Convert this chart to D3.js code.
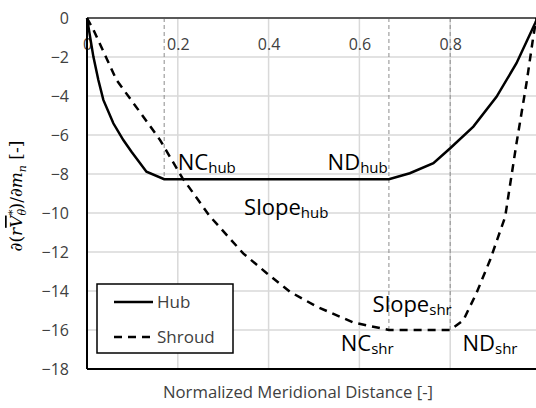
<!DOCTYPE html>
<meta charset="utf-8">
<script src="https://d3js.org/d3.v7.min.js"></script>
<style>
  body { margin: 0; background: #fff; }
  text { font-family: "Open Sans", sans-serif; }
</style>
<div id="chart"></div>
<script>
// data
const hubX = [0, 0.014, 0.025, 0.036, 0.058, 0.080, 0.098, 0.131, 0.17, 0.665, 0.711, 0.763, 0.80, 0.851, 0.902, 0.946, 0.987, 0.992];
const hubY = [0, -1.98, -3.18, -4.2, -5.4, -6.26, -6.86, -7.88, -8.27, -8.27, -7.96, -7.45, -6.68, -5.57, -4.04, -2.32, -0.27, 0];
const shroudX = [0, 0.014, 0.065, 0.124, 0.161, 0.21, 0.27, 0.344, 0.396, 0.447, 0.506, 0.587, 0.665, 0.80, 0.829, 0.858, 0.888, 0.921, 0.946, 0.968, 0.983, 0.99];
const shroudY = [0, -0.6, -3.18, -5.06, -6.26, -8.2, -10.15, -12.07, -13.09, -14.04, -14.8, -15.62, -16, -16, -15.5, -14.1, -12.4, -10.2, -6.43, -3.35, -0.96, 0];
const markerX = [0.17, 0.665, 0.8];
const markerBottom = [-8.27, -16, -16];
const xTicks = [0, 0.2, 0.4, 0.6, 0.8];
const yTicks = [0, -2, -4, -6, -8, -10, -12, -14, -16, -18];
const notes = [
  { x: 0.2, y: -7.8, main: "NC", sub: "hub" },
  { x: 0.53, y: -7.8, main: "ND", sub: "hub" },
  { x: 0.346, y: -10.1, main: "Slope", sub: "hub" },
  { x: 0.629, y: -15.1, main: "Slope", sub: "shr" },
  { x: 0.559, y: -17.1, main: "NC", sub: "shr" },
  { x: 0.827, y: -17.1, main: "ND", sub: "shr" }
];

const W = 536, H = 408;
const svg = d3.select("#chart").append("svg")
  .attr("width", W).attr("height", H);

const x = d3.scaleLinear().domain([0, 1]).range([87, 541]);
const y = d3.scaleLinear().domain([0, -18]).range([18, 369]);

// gridlines
svg.append("g").selectAll("line.h")
  .data(yTicks.slice(1, -1)).enter().append("line")
  .attr("x1", x(0)).attr("x2", W)
  .attr("y1", d => y(d)).attr("y2", d => y(d))
  .attr("stroke", "#d9d9d9").attr("stroke-width", 1.5);
svg.append("g").selectAll("line.v")
  .data([0.2, 0.4, 0.6, 0.8]).enter().append("line")
  .attr("x1", d => x(d)).attr("x2", d => x(d))
  .attr("y1", y(0)).attr("y2", y(-18))
  .attr("stroke", "#d9d9d9").attr("stroke-width", 1.5);

// vertical markers
svg.append("g").selectAll("line")
  .data(markerX).enter().append("line")
  .attr("x1", d => x(d)).attr("x2", d => x(d))
  .attr("y1", y(0)).attr("y2", (d, i) => y(markerBottom[i]))
  .attr("stroke", "#8c8c8c").attr("stroke-width", 1)
  .attr("stroke-dasharray", "4,3");

// axes
const yAxis = svg.append("g")
  .attr("transform", "translate(" + x(0) + ",0)")
  .call(d3.axisLeft(y).tickValues(yTicks).tickSize(0).tickPadding(18).tickFormat(d3.format("d")));
yAxis.select(".domain").remove();
yAxis.selectAll("text").attr("font-size", 16).attr("fill", "#404040")
  .style("font-family", "'Open Sans', sans-serif");

const xAxis = svg.append("g")
  .attr("transform", "translate(0," + y(0) + ")")
  .call(d3.axisBottom(x).tickValues(xTicks).tickSize(0).tickPadding(21)
    .tickFormat(d => d === 0 ? "0" : d3.format(".1f")(d)));
xAxis.select(".domain").remove();
xAxis.selectAll("text").attr("font-size", 16).attr("fill", "#404040")
  .style("font-family", "'Open Sans', sans-serif");

// frame lines
svg.append("line").attr("x1", x(0)).attr("x2", W).attr("y1", y(0)).attr("y2", y(0))
  .attr("stroke", "#595959").attr("stroke-width", 2);
svg.append("line").attr("x1", x(0)).attr("x2", W).attr("y1", y(-18)).attr("y2", y(-18))
  .attr("stroke", "#000").attr("stroke-width", 2);
svg.append("line").attr("x1", x(0)).attr("x2", x(0)).attr("y1", y(0)).attr("y2", y(-18))
  .attr("stroke", "#000").attr("stroke-width", 2);

// series
const line = d3.line().x(d => x(d[0])).y(d => y(d[1]));
svg.append("path")
  .datum(hubX.map((v, i) => [v, hubY[i]]))
  .attr("d", line).attr("fill", "none")
  .attr("stroke", "#000").attr("stroke-width", 2.5);
svg.append("path")
  .datum(shroudX.map((v, i) => [v, shroudY[i]]))
  .attr("d", line).attr("fill", "none")
  .attr("stroke", "#000").attr("stroke-width", 2.5)
  .attr("stroke-dasharray", "8,6");

// annotations
notes.forEach(n => {
  const t = svg.append("text")
    .attr("x", x(n.x)).attr("y", y(n.y))
    .attr("font-size", 22).attr("fill", "#000");
  t.append("tspan").text(n.main);
  t.append("tspan").attr("font-size", 15).attr("dy", 3).text(n.sub);
});

// legend
const lg = svg.append("g").attr("transform", "translate(97,284)");
lg.append("rect").attr("width", 136).attr("height", 69)
  .attr("fill", "#fff").attr("stroke", "#000").attr("stroke-width", 1.5);
lg.append("line").attr("x1", 17).attr("x2", 56).attr("y1", 18).attr("y2", 18)
  .attr("stroke", "#000").attr("stroke-width", 2.5);
lg.append("line").attr("x1", 17).attr("x2", 56).attr("y1", 53).attr("y2", 53)
  .attr("stroke", "#000").attr("stroke-width", 2.5).attr("stroke-dasharray", "8,6");
lg.append("text").attr("x", 60).attr("y", 18).attr("dy", "0.35em")
  .attr("font-size", 17).attr("fill", "#404040").text("Hub");
lg.append("text").attr("x", 60).attr("y", 53).attr("dy", "0.35em")
  .attr("font-size", 17).attr("fill", "#404040").text("Shroud");

// axis titles
svg.append("text")
  .attr("x", 298).attr("y", 398)
  .attr("text-anchor", "middle")
  .attr("font-size", 16.7).attr("fill", "#404040")
  .text("Normalized Meridional Distance [-]");

const yt = svg.append("text")
  .attr("transform", "translate(22,196) rotate(-90)")
  .attr("text-anchor", "middle")
  .attr("font-size", 17).attr("fill", "#000")
  .style("font-family", "'DejaVu Serif', serif");
yt.append("tspan").text("∂(");
yt.append("tspan").attr("font-style", "italic").text("r");
yt.append("tspan").attr("font-style", "italic").attr("text-decoration", "overline").text("V");
yt.append("tspan").attr("font-style", "italic").attr("font-size", 11).attr("dy", 4).text("θ");
yt.append("tspan").attr("font-size", 11).attr("dy", -10).attr("dx", -6).text("*");
yt.append("tspan").attr("dy", 6).text(")/∂");
yt.append("tspan").attr("font-style", "italic").text("m");
yt.append("tspan").attr("font-style", "italic").attr("font-size", 11).attr("dy", 4).text("n");
yt.append("tspan").attr("dy", -4).text(" [-]");
</script>
